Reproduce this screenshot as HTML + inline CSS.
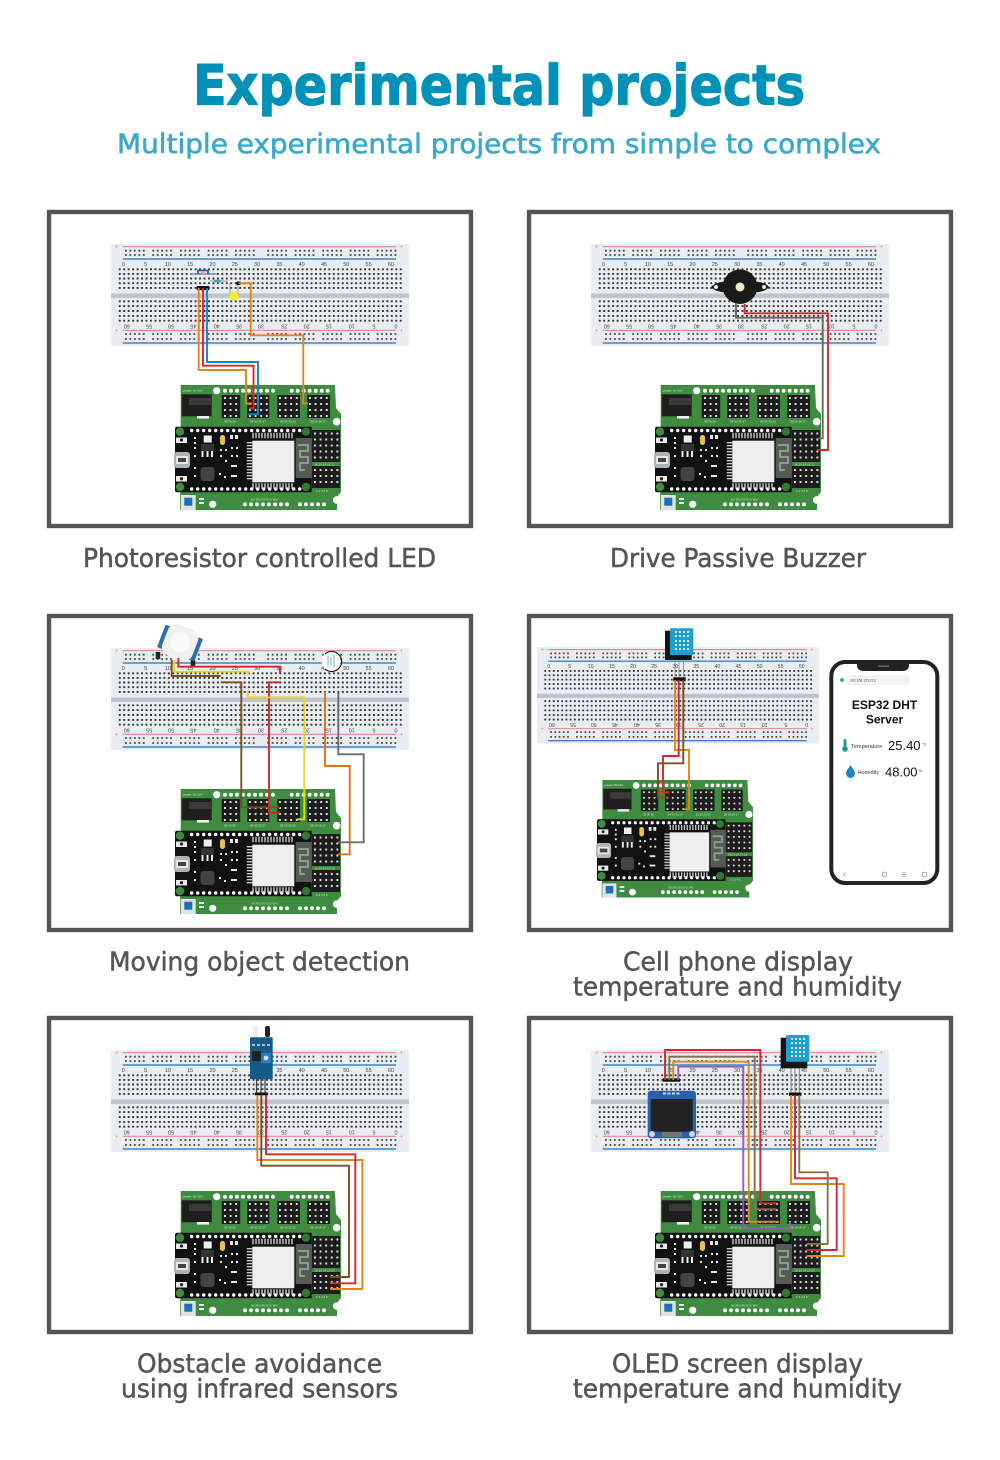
<!DOCTYPE html>
<html lang="en"><head><meta charset="utf-8"><title>Experimental projects</title>
<style>
html,body{margin:0;padding:0;background:#fff}
svg{display:block}
text{font-family:"Liberation Sans",sans-serif}
.cap,.hd{font-family:"DejaVu Sans",sans-serif}
.cap{font-size:26px;fill:#555;stroke:#555;stroke-width:.5;text-anchor:start}
.w{fill:none;stroke-width:1.9;stroke-linejoin:miter}
.or{stroke:#e0861c}.rd{stroke:#d9262a}.bl{stroke:#1f7fc4}.br{stroke:#7a4f1e}.ol{stroke:#857348}.ye{stroke:#e8d422}.oo{stroke:#e0701c}.gy{stroke:#6c6c6c}.gg{stroke:#5f6d62}.pu{stroke:#9a58b8}
.bbt{font-size:5.5px;fill:#444;text-anchor:middle}
.s{font-size:3px;fill:#dfe8df}
</style></head><body>
<svg xmlns="http://www.w3.org/2000/svg" width="1000" height="1460" viewBox="0 0 1000 1460">
<defs>
<g id="bb">
<rect width="298" height="102" fill="#e9ecf0"/>
<rect y="49.5" width="298" height="4.4" fill="#bfc2c8"/>
<path d="M11.7 2.7H285M11.7 86.3H285" stroke="#e9868f" stroke-width="1.1"/>
<path d="M11.7 15H285M11.7 99H285" stroke="#3d86c8" stroke-width="1.5"/>
<path d="M4 2.7h3M5.5 1.2v3M289 2.7h3M290.5 1.2v3M4 86.3h3M5.5 84.8v3M289 86.3h3M290.5 84.8v3" stroke="#e9a0a8" stroke-width=".7"/>
<path fill="none" stroke="#444" stroke-width="1.8" stroke-dasharray="1.8 2.66" d="M14 6.7h20M41.3 6.7h20M69 6.7h20M96.7 6.7h20M124 6.7h20M156.3 6.7h20M183.7 6.7h20M211.3 6.7h20M238.7 6.7h20M265.7 6.7h20M14 11h20M41.3 11h20M69 11h20M96.7 11h20M124 11h20M156.3 11h20M183.7 11h20M211.3 11h20M238.7 11h20M265.7 11h20M14 90h20M41.3 90h20M69 90h20M96.7 90h20M124 90h20M156.3 90h20M183.7 90h20M211.3 90h20M238.7 90h20M265.7 90h20M14 95h20M41.3 95h20M69 95h20M96.7 95h20M124 95h20M156.3 95h20M183.7 95h20M211.3 95h20M238.7 95h20M265.7 95h20"/>
<path fill="none" stroke="#333" stroke-width="1.9" stroke-dasharray="1.9 2.56" d="M7.8 25.3H291M7.8 29.9H291M7.8 34.5H291M7.8 39.2H291M7.8 43.9H291M7.8 57.3H291M7.8 62.1H291M7.8 67H291M7.8 71.9H291M7.8 76.7H291"/>
<g class="bbt">
<text x="12.3" y="22">0</text><text x="34.6" y="22">5</text><text x="56.9" y="22">10</text><text x="79.2" y="22">15</text><text x="101.5" y="22">20</text><text x="123.8" y="22">25</text><text x="146.1" y="22">30</text><text x="168.4" y="22">35</text><text x="190.7" y="22">40</text><text x="213" y="22">45</text><text x="235.3" y="22">50</text><text x="257.6" y="22">55</text><text x="279.9" y="22">60</text>
<text transform="rotate(180 15.7 80.5)" x="15.7" y="80.5">60</text><text transform="rotate(180 38 80.5)" x="38" y="80.5">55</text><text transform="rotate(180 60 80.5)" x="60" y="80.5">50</text><text transform="rotate(180 82.3 80.5)" x="82.3" y="80.5">45</text><text transform="rotate(180 105.7 80.5)" x="105.7" y="80.5">40</text><text transform="rotate(180 128 80.5)" x="128" y="80.5">35</text><text transform="rotate(180 150 80.5)" x="150" y="80.5">30</text><text transform="rotate(180 173.3 80.5)" x="173.3" y="80.5">25</text><text transform="rotate(180 195.7 80.5)" x="195.7" y="80.5">20</text><text transform="rotate(180 217.7 80.5)" x="217.7" y="80.5">15</text><text transform="rotate(180 240.7 80.5)" x="240.7" y="80.5">10</text><text transform="rotate(180 263 80.5)" x="263" y="80.5">5</text><text transform="rotate(180 285 80.5)" x="285" y="80.5">0</text>
</g>
</g>
<g id="sh">
<path d="M5.7 0H160L161 23L166 29V107L162 112V125H5V110L5.7 105Z" fill="#3f8c40"/>
<circle cx="41.7" cy="5.7" r="3.6" fill="#fff"/>
<circle cx="161.7" cy="36.7" r="3.8" fill="#fff"/>
<circle cx="161.7" cy="115" r="3.8" fill="#fff"/>
<circle cx="37.7" cy="119.3" r="3.6" fill="#fff"/>
<path d="M50 5.7H104M116.7 5.7H157M70 119.3H114M125 119.3H154" fill="none" stroke="#fff" stroke-width="3.9" stroke-linecap="round" stroke-dasharray="0 6"/>
<rect x="6.7" y="9.3" width="30" height="22" fill="#1e1e1e"/><rect x="14" y="13" width="22" height="7" fill="#3a3a3a"/><rect x="22" y="31" width="12" height="2.6" fill="#eee"/>
<g fill="#1d1d1d">
<rect x="46.7" y="10" width="18.5" height="23"/><rect x="72.3" y="10" width="22" height="23"/><rect x="102.3" y="10" width="22.7" height="23"/><rect x="132.3" y="10" width="22.7" height="23"/>
<rect x="137" y="45" width="28" height="32"/><rect x="137" y="81" width="28" height="22"/>
</g>
<path fill="none" stroke="#e0e0e0" stroke-width="1.9" stroke-dasharray="1.9 3.7" d="M49 13H64M49 19H64M49 25H64M49 31H64M74 13H94M74 19H94M74 25H94M74 31H94M104 13H125M104 19H125M104 25H125M104 31H125M134 13H155M134 19H155M134 25H155M134 31H155M139 48.5H165M139 54.5H165M139 60.5H165M139 66.5H165M139 72.5H165M139 85H165M139 91H165M139 97H165"/>
<text class="s" x="8" y="6.3">power: 5V-12V</text>
<g class="s"><text x="49" y="37.5">39 36 35</text><text x="75" y="37.5">34 33 32 27</text><text x="105" y="37.5">26 25 23 22</text><text x="135" y="37.5">28 19 18 17</text><text x="139.5" y="80.3">16 15 14 13 12</text><text x="141" y="107">1 2 3 4 5</text><text x="76" y="115.5">5V 3V3 5V G G VIN</text></g>
<path d="M2 41.7H136.7V107.3H2Q0 107.3 0 105V44Q0 41.7 2 41.7Z" fill="#111"/>
<circle cx="5" cy="46.7" r="4.2" fill="#3f8c40"/><circle cx="131" cy="46.7" r="4.2" fill="#2f7a30"/><circle cx="5" cy="102" r="4.2" fill="#3f8c40"/><circle cx="131" cy="102" r="4.2" fill="#2f7a30"/>
<path d="M16.7 45.5H128M16.7 104H128" fill="none" stroke="#fff" stroke-width="3.4" stroke-linecap="round" stroke-dasharray="0 6"/>
<path d="M77.3 50.5H119M77.3 101H119" fill="none" stroke="#ccc" stroke-width="5.5" stroke-dasharray="1.4 1.6"/>
<path d="M74.5 57V96" fill="none" stroke="#ccc" stroke-width="5.5" stroke-dasharray="1.4 1.6"/>
<rect x="77.3" y="55.7" width="42" height="41.6" fill="#eeeeee"/>
<rect x="120.7" y="53" width="16" height="40" fill="#555b55"/>
<path d="M123 60H133V66H125V72H133V78H125V85H130" fill="none" stroke="#9aa09a" stroke-width="1.8"/>
<rect x="-1" y="67" width="16" height="16" rx="3" fill="#aeb4b8"/><rect x="1" y="71" width="12" height="8" fill="#e8e8e8"/><rect x="3" y="73" width="8" height="4" fill="#444"/>
<rect x="1" y="52.5" width="11" height="5.5" fill="#e8e8e8"/><rect x="1" y="91" width="11" height="5.5" fill="#e8e8e8"/><circle cx="6.5" cy="55" r="1.6" fill="#222"/><circle cx="6.5" cy="93.7" r="1.6" fill="#222"/>
<rect x="28.7" y="50.5" width="8" height="7" fill="#eee"/><rect x="26" y="59" width="13" height="7" fill="#333"/>
<path d="M27.5 66V72M32.5 66V72M37 66V72" stroke="#eee" stroke-width="2"/>
<rect x="45" y="50" width="5" height="10" rx="2.4" fill="#e8c24a"/>
<g fill="#e8e8e8"><rect x="55" y="50" width="3" height="4"/><rect x="60" y="50" width="3" height="4"/><rect x="19" y="52" width="2" height="2"/><rect x="19" y="57" width="2" height="2"/><rect x="19" y="62" width="2" height="2"/><rect x="19" y="70" width="2" height="2"/><rect x="19" y="82" width="2" height="2"/><rect x="19" y="90" width="2" height="2"/><rect x="45" y="64" width="2" height="2"/><rect x="50" y="64" width="2" height="2"/><rect x="45" y="70" width="2" height="2"/><rect x="50" y="75" width="2" height="2"/><rect x="56" y="62" width="2" height="2"/><rect x="61" y="62" width="2" height="2"/><rect x="56" y="70" width="2" height="2"/><rect x="61" y="70" width="2" height="2"/><rect x="56" y="80" width="6" height="2"/><rect x="56" y="90" width="6" height="2"/><rect x="44" y="88" width="2" height="2"/><rect x="49" y="91" width="2" height="2"/></g>
<rect x="25.5" y="82" width="14" height="14" rx="3" fill="#444"/>
<rect x="5.7" y="110" width="15" height="15" fill="#dfe3e6"/><rect x="9.3" y="112.7" width="8" height="8" fill="#1a6fb5"/>
<rect x="24" y="113" width="5" height="1.8" fill="#fff"/><rect x="24" y="117" width="5" height="2" fill="#fff"/>
</g>
</defs>

<rect width="1000" height="1460" fill="#fff"/>
<text class="hd" x="193" y="104.5" font-size="55" font-weight="700" fill="#0091b8" stroke="#0091b8" stroke-width="1.2" textLength="612" lengthAdjust="spacingAndGlyphs">Experimental projects</text>
<text class="hd" x="117" y="153" font-size="26.5" fill="#38a9cd" stroke="#38a9cd" stroke-width=".6" textLength="764" lengthAdjust="spacingAndGlyphs">Multiple experimental projects from simple to complex</text>

<g fill="none" stroke="#555" stroke-width="4.4">
<rect x="49" y="212" width="422" height="314"/><rect x="529" y="212" width="422" height="314"/>
<rect x="49" y="616" width="422" height="314"/><rect x="529" y="616" width="422" height="314"/>
<rect x="49" y="1018" width="422" height="314"/><rect x="529" y="1018" width="422" height="314"/>
</g>

<text class="cap" x="83" y="567" textLength="353" lengthAdjust="spacingAndGlyphs">Photoresistor controlled LED</text>
<text class="cap" x="610" y="567" textLength="256" lengthAdjust="spacingAndGlyphs">Drive Passive Buzzer</text>
<text class="cap" x="109" y="970.5" textLength="301" lengthAdjust="spacingAndGlyphs">Moving object detection</text>
<text class="cap" x="623" y="970.5" textLength="230" lengthAdjust="spacingAndGlyphs">Cell phone display</text>
<text class="cap" x="573" y="995.5" textLength="329" lengthAdjust="spacingAndGlyphs">temperature and humidity</text>
<text class="cap" x="137" y="1372.5" textLength="245" lengthAdjust="spacingAndGlyphs">Obstacle avoidance</text>
<text class="cap" x="121" y="1397.5" textLength="277" lengthAdjust="spacingAndGlyphs">using infrared sensors</text>
<text class="cap" x="612" y="1372.5" textLength="251" lengthAdjust="spacingAndGlyphs">OLED screen display</text>
<text class="cap" x="573" y="1397.5" textLength="329" lengthAdjust="spacingAndGlyphs">temperature and humidity</text>

<!-- Panel 1 -->
<use href="#bb" x="111" y="244"/><use href="#sh" x="175" y="385"/>
<path d="M190 274H216.7" stroke="#7f9fb5" stroke-width="1.4"/>
<path d="M198 274V270.5H208V274" fill="none" stroke="#2468b0" stroke-width="1.8"/><rect x="201" y="271" width="4" height="3" fill="#e8a0a0"/>
<path d="M210 281H228" stroke="#888" stroke-width=".8"/><rect x="214" y="279.7" width="7" height="2.6" fill="#4aa5b5"/>
<path d="M230 283V296M238 283V296" stroke="#888" stroke-width=".8"/>
<circle cx="234" cy="296" r="4.6" fill="#f6ea2a"/>
<rect x="196.7" y="286" width="12.5" height="4.2" fill="#111"/><rect x="236.5" y="281.5" width="4" height="3.6" fill="#111"/>
<path class="w or" d="M198.7 288V370H246V403.5H252"/>
<path class="w rd" d="M203 288V365.7H253.5V408.3H249"/>
<path class="w bl" d="M207 288V362H258V414.3H248.3"/>
<path class="w or" d="M238.5 283.3H250.7V335.3H303.3V403.3H308"/>

<!-- Panel 2 -->
<use href="#bb" x="591" y="244"/><use href="#sh" x="655" y="385"/>
<path d="M711 287C716 281 728 281 740 281S765 281 769 287C765 293 752 293 740 293S716 293 711 287Z" fill="#1a1a1a"/>
<circle cx="716" cy="287" r="2" fill="#eee"/><circle cx="764" cy="287" r="2" fill="#eee"/>
<circle cx="740" cy="286.7" r="17.3" fill="#1a1a1a"/><circle cx="740" cy="287" r="4.5" fill="#f4e9c9"/>
<path class="w gg" d="M736 303V317.7H822.7V438.3H818"/>
<path class="w rd" d="M744.7 304V313.3H828V450H816.7"/>

<!-- Panel 3 -->
<use href="#bb" x="111" y="648"/><use href="#sh" x="175" y="789"/>
<path d="M158 652V659M193 660V666" stroke="#222" stroke-width="4.5"/>
<g transform="rotate(21 180 643)">
<rect x="160" y="631" width="40" height="24" rx="1" fill="#2e6fa5"/>
<rect x="164" y="626" width="32" height="33" rx="9" fill="#f0f0f0"/>
<circle cx="180" cy="642" r="10" fill="#fafafa"/>
</g>
<circle cx="331" cy="661" r="9.5" fill="#f7f7f7"/>
<path d="M325 654A10 10 0 1 1 325 669" fill="none" stroke="#111" stroke-width="1.1"/>
<path d="M328 656V666M331 657V665M334 655V667" stroke="#6ea0c8" stroke-width=".8"/>
<path class="w br" d="M171.7 660V676H220.7"/>
<path class="w ye" d="M174.3 660V671.7H248.3V675"/>
<path class="w rd" d="M178.3 658V666.7H280V672.7"/>
<path class="w br" d="M220.7 682.3H241.3V807.3H280"/>
<path class="w rd" d="M280 682.3H269V812.7H280"/>
<path class="w ye" d="M247.7 690.7V697.3H304.3V819.3H296.7"/>
<path class="w oo" d="M325 691.7V766H349.7V854.3H338"/>
<path class="w gy" d="M338.3 692.7V754.3H363.7V842.3H338"/>

<!-- Panel 4 -->
<g transform="translate(537 647) scale(.946)"><use href="#bb"/></g>
<g transform="translate(597 780) scale(.94)"><use href="#sh"/></g>
<path d="M675 660V678M679 660V678M683.5 660V678" stroke="#999" stroke-width="1"/>
<rect x="665" y="630.7" width="26.7" height="29.3" fill="#151515"/>
<rect x="670" y="628.3" width="23.3" height="26.7" rx="1" fill="#1f9ed0"/>
<path d="M675 632H689M675 636H689M675 641H689M675 645H689M675 649H689" stroke="#d5eef8" stroke-width="2" stroke-dasharray="2 2"/>
<rect x="673.3" y="677.3" width="12.4" height="4" fill="#111"/>
<path class="w or" d="M675 680V750H689V809.3H684"/>
<path class="w rd" d="M678.7 680V756H663V792.7H669.3"/>
<path class="w br" d="M683.3 680V763.3H658V797.3H668.3"/>

<rect x="831.3" y="662" width="106" height="221" rx="14" fill="#fff" stroke="#222" stroke-width="4"/>
<path d="M857 661H909V665Q909 671 902 671H864Q857 671 857 665Z" fill="#222"/>
<rect x="878" y="665.5" width="11" height="1.2" fill="#777"/>
<rect x="847" y="675" width="63" height="10" rx="3" fill="#f4f4f4"/>
<circle cx="842" cy="680" r="2" fill="#2bb5a5"/>
<text x="850" y="681.3" font-size="3.4" fill="#444">192.168.123.213</text>
<text x="884.5" y="709" font-size="12" font-weight="700" fill="#111" text-anchor="middle">ESP32 DHT</text>
<text x="884.5" y="723.5" font-size="12" font-weight="700" fill="#111" text-anchor="middle">Server</text>
<rect x="843.5" y="739" width="3" height="9" rx="1.5" fill="#1d9a94"/><circle cx="845" cy="749" r="2.8" fill="#1d9a94"/>
<text x="851" y="748" font-size="5.6" fill="#333">Temperature</text>
<text x="888" y="750" font-size="13" fill="#111">25.40</text>
<text x="922" y="745.5" font-size="4" fill="#333">°C</text>
<path d="M850.5 765C848 769 846 771 846 773.5A4.5 4.5 0 0 0 855 773.5C855 771 853 769 850.5 765Z" fill="#1b87c6"/>
<text x="857.5" y="774" font-size="5.6" fill="#333">Humidity</text>
<text x="885" y="776.7" font-size="13" fill="#111">48.00</text>
<text x="918.5" y="772" font-size="4" fill="#333">%</text>
<g fill="none" stroke="#888" stroke-width=".7"><path d="M845.5 872.5L843.5 874.5L845.5 876.5"/><circle cx="884.5" cy="874.5" r="2.5"/><path d="M902 872.8H906M902 874.5H906M902 876.2H906"/><circle cx="924.5" cy="874.5" r="2.4"/></g>

<!-- Panel 5 -->
<use href="#bb" x="111" y="1050"/><use href="#sh" x="175" y="1191"/>
<path d="M256.5 1079V1093M261 1079V1093M265 1079V1093" stroke="#444" stroke-width="1.2"/>
<rect x="253" y="1026" width="5" height="11" rx="2" fill="#ececec"/><rect x="265" y="1026" width="5" height="11" rx="2" fill="#222"/>
<rect x="250" y="1037.3" width="22.7" height="42" rx="1" fill="#155b86"/>
<rect x="252" y="1051" width="9" height="10" fill="#222"/><rect x="261" y="1053" width="10" height="10" fill="#2a7bc4"/><circle cx="266" cy="1058" r="2.4" fill="#ddd"/>
<path d="M252 1045H270" stroke="#bbb" stroke-width="2" stroke-dasharray="3 2"/>
<rect x="255" y="1092.5" width="13" height="2.8" fill="#111"/>
<path class="w or" d="M257.3 1095V1160H362.3V1289H330"/>
<path class="w br" d="M261.3 1095V1165.7H349V1277H330"/>
<path class="w rd" d="M266 1095V1154.3H355.3V1283.3H330"/>

<!-- Panel 6 -->
<use href="#bb" x="591" y="1050"/><use href="#sh" x="655" y="1191"/>
<rect x="647.7" y="1090.7" width="48.3" height="47.6" rx="3" fill="#2a5fb0"/>
<rect x="650.7" y="1099" width="42" height="32.7" fill="#222"/>
<rect x="662" y="1132" width="20" height="5" fill="#777"/>
<circle cx="652" cy="1134" r="3" fill="#ccd8e8"/><circle cx="692" cy="1134" r="3" fill="#ccd8e8"/>
<path d="M663 1093.5H680" stroke="#cfdaf0" stroke-width="2" stroke-dasharray="3 1.5"/>
<path d="M791 1068V1094M795 1068V1094M799.3 1068V1094" stroke="#888" stroke-width="1"/>
<rect x="780.7" y="1037.7" width="26.6" height="30.6" fill="#151515"/>
<rect x="786" y="1035" width="23.3" height="26.7" rx="1" fill="#1f9ed0"/>
<path d="M791 1039H805M791 1043H805M791 1048H805M791 1052H805M791 1056H805" stroke="#d5eef8" stroke-width="2" stroke-dasharray="2 2"/>
<rect x="662.7" y="1078.3" width="17.3" height="3.4" fill="#111"/><rect x="789" y="1092.5" width="12.5" height="3.3" fill="#111"/>
<path class="w rd" d="M665 1080V1050H760.3V1203.3H776.7"/>
<path class="w ol" d="M669.3 1080V1056.7H754.7V1209.3H776.7"/>
<path class="w or" d="M673.3 1080V1061.7H748.7V1221.7H779"/>
<path class="w pu" d="M678.3 1080V1066.7H743.3V1228.3H790V1221.7"/>
<path class="w or" d="M791 1095V1184H843.7V1256H806.7"/>
<path class="w rd" d="M795 1095V1178.3H836.7V1250H806.7"/>
<path class="w ol" d="M799.3 1095V1172.3H827.7V1244H806.7"/>
</svg>
</body></html>
